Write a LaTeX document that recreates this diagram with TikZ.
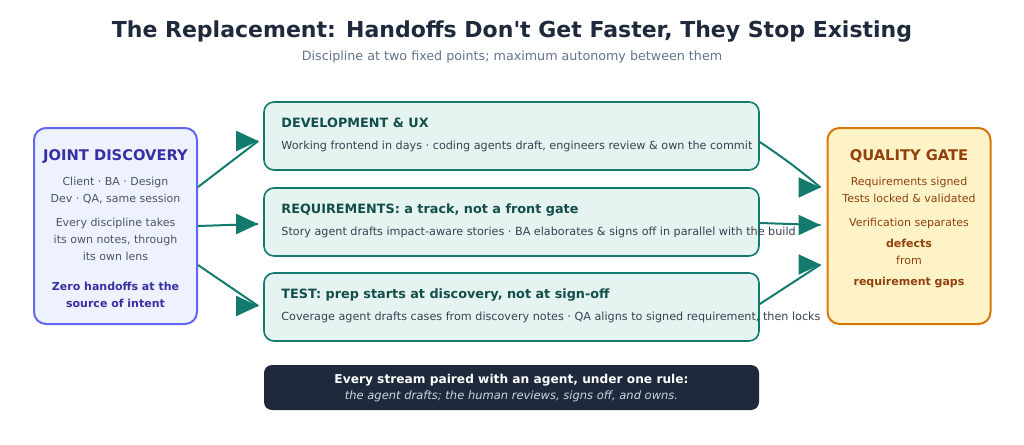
\documentclass[tikz,border=0pt]{standalone}
\usepackage{fontspec}
\setmainfont{DejaVu Sans}
\usetikzlibrary{arrows.meta,calc,positioning}
\definecolor{ink}{HTML}{1E293B}
\definecolor{mute}{HTML}{64748B}
\definecolor{jdfill}{HTML}{EEF2FF}
\definecolor{jdline}{HTML}{6366F1}
\definecolor{jdink}{HTML}{3730A3}
\definecolor{grey}{HTML}{4B5563}
\definecolor{trfill}{HTML}{E6F4F1}
\definecolor{trline}{HTML}{137A6E}
\definecolor{trink}{HTML}{134E4A}
\definecolor{body}{HTML}{374151}
\definecolor{qgfill}{HTML}{FEF3C7}
\definecolor{qgline}{HTML}{D97706}
\definecolor{qgink}{HTML}{92400E}
\definecolor{rulefg}{HTML}{CBD5E1}
\tikzstyle{flow} = [draw=trline, line width=2pt]
\tikzstyle{flowhead} = [trline, line width=2pt, -{Triangle[length=22pt,width=20pt]}]

\begin{document}
\begin{tikzpicture}[x=1pt,y=-1pt,
	side/.style={draw, line width=2pt, rounded corners=12pt, minimum width=163pt, minimum height=196pt},
	track/.style={draw=trline, fill=trfill, line width=1.6pt, rounded corners=10pt, minimum width=495pt, minimum height=68pt},
	head/.style={font=\fontsize{14.7}{17}\selectfont\bfseries, anchor=base, inner sep=0pt},
	line/.style={font=\fontsize{11}{17}\selectfont, anchor=base, inner sep=0pt, align=center},
	ttl/.style={font=\fontsize{12.8}{16}\selectfont\bfseries, text=trink, anchor=base west, inner sep=0pt},
	sub/.style={font=\fontsize{11.2}{14}\selectfont, text=body, anchor=base west, inner sep=0pt}]
	\useasboundingbox (0,0) rectangle (1024,444);

	% heading
	\node[font=\fontsize{22}{26}\selectfont\bfseries, text=ink, anchor=base] (title) at (512,37.5) {The Replacement: Handoffs Don\textquotesingle t Get Faster, They Stop Existing};
	\node[font=\fontsize{12.7}{16}\selectfont, text=mute, anchor=base] (subtitle) at (512,60) {Discipline at two fixed points; maximum autonomy between them};

	% joint discovery
	\node[side, draw=jdline, fill=jdfill] (jd) at (115.5,226) {};
	\node[head, text=jdink] (jdh) at ($(jd.north)+(0,33)$) {JOINT DISCOVERY};
	\node[line, text=grey] (jd1) at ($(jd.north)+(0,75.5)$) {Client · BA · Design\\Dev · QA, same session};
	\node[line, text=grey] (jd2) at ($(jd.north)+(0,133)$) {Every discipline takes\\its own notes, through\\its own lens};
	\node[line, text=jdink, font=\fontsize{11}{17}\selectfont\bfseries] (jd3) at ($(jd.north)+(0,180)$) {Zero handoffs at the\\source of intent};

	% tracks
	\node[track] (dev) at (511.5,136) {};
	\node[ttl] (devh) at ($(dev.north west)+(18,26)$) {DEVELOPMENT \& UX};
	\node[sub] (devs) at ($(dev.north west)+(18,48)$) {Working frontend in days · coding agents draft, engineers review \& own the commit};

	\node[track] (req) at (511.5,222) {};
	\node[ttl] (reqh) at ($(req.north west)+(18,26)$) {REQUIREMENTS: a track, not a front gate};
	\node[sub] (reqs) at ($(req.north west)+(18,48)$) {Story agent drafts impact-aware stories · BA elaborates \& signs off in parallel with the build};

	\node[track] (tst) at (511.5,307) {};
	\node[ttl] (tsth) at ($(tst.north west)+(18,26)$) {TEST: prep starts at discovery, not at sign-off};
	\node[sub] (tsts) at ($(tst.north west)+(18,48)$) {Coverage agent drafts cases from discovery notes · QA aligns to signed requirement, then locks};

	% rule
	\node[fill=ink, rounded corners=8pt, minimum width=495pt, minimum height=45pt] (rule) at (511.5,387.5) {};
	\node[font=\fontsize{12.2}{15}\selectfont\bfseries, text=white, anchor=base] (rule1) at ($(rule.north)+(0,19)$) {Every stream paired with an agent, under one rule:};
	\node[font=\fontsize{11.5}{14}\selectfont\itshape, text=rulefg, anchor=base, inner sep=0pt] (rule2) at ($(rule.north)+(0,35)$) {the agent drafts; the human reviews, signs off, and owns.};

	% quality gate
	\node[side, draw=qgline, fill=qgfill] (qg) at (909,226) {};
	\node[head, text=qgink] (qgh) at ($(qg.north)+(0,33)$) {QUALITY GATE};
	\node[line, text=qgink] (qg1) at ($(qg.north)+(0,75.5)$) {Requirements signed\\Tests locked \& validated};
	\node[line, text=qgink] (qg2) at ($(qg.north)+(0,99)$) {Verification separates};
	\node[line, text=qgink, font=\fontsize{11}{17}\selectfont\bfseries] (qg3) at ($(qg.north)+(0,120)$) {defects};
	\node[line, text=qgink] (qg4) at ($(qg.north)+(0,137)$) {from};
	\node[line, text=qgink, font=\fontsize{11}{17}\selectfont\bfseries] (qg5) at ($(qg.north)+(0,158)$) {requirement gaps};

	% discovery feeds every track
	\draw[flow] ($(jd.east)+(0,-39)$) -- ($(dev.west)+(-5,5)$);
	\draw[flowhead] ($(dev.west)+(-27,5)$) -- ($(dev.west)+(-5,5)$);
	\draw[flow] (jd.east) -- ($(req.west)+(-5,2)$);
	\draw[flowhead] ($(req.west)+(-27,2)$) -- ($(req.west)+(-5,2)$);
	\draw[flow] ($(jd.east)+(0,39)$) -- ($(tst.west)+(-5,-1)$);
	\draw[flowhead] ($(tst.west)+(-27,-1)$) -- ($(tst.west)+(-5,-1)$);

	% every track meets the gate
	\draw[flow] ($(dev.east)+(0,6)$) to[bend left=3] ($(qg.west)+(-6,-38.5)$);
	\draw[flowhead] ($(qg.west)+(-28,-38.5)$) -- ($(qg.west)+(-6,-38.5)$);
	\draw[flow] ($(req.east)+(0,1)$) -- ($(qg.west)+(-6,-1)$);
	\draw[flowhead] ($(qg.west)+(-28,-1)$) -- ($(qg.west)+(-6,-1)$);
	\draw[flow] ($(tst.east)+(0,-3)$) -- ($(qg.west)+(-6,38.5)$);
	\draw[flowhead] ($(qg.west)+(-28,38.5)$) -- ($(qg.west)+(-6,38.5)$);
\end{tikzpicture}
\end{document}
